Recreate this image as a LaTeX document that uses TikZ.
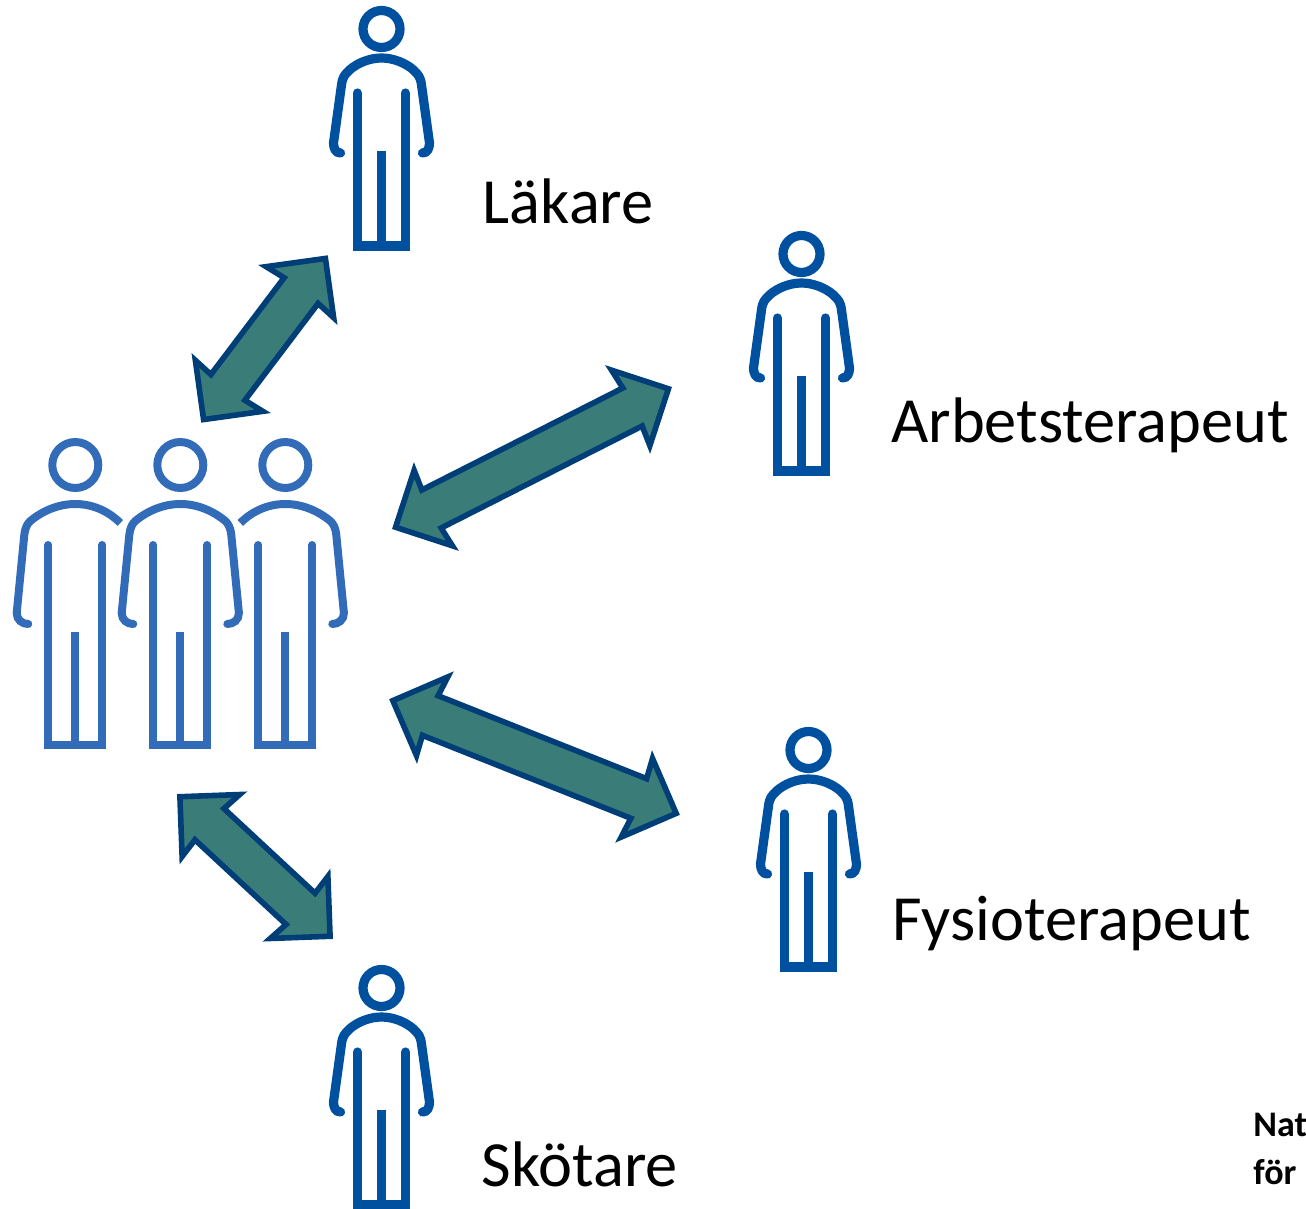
\documentclass[tikz,border=0pt]{standalone}
\usepackage{fontspec}
\setmainfont{Carlito}
\usetikzlibrary{shapes.arrows}
\definecolor{personblue}{RGB}{0, 80, 160}
\definecolor{teamblue}{RGB}{50, 108, 184}
\definecolor{arrowfill}{RGB}{58, 125, 120}
\definecolor{arrowline}{RGB}{0, 62, 120}
\tikzset{x=.5pt, y=-.5pt}
\tikzset{swap/.style={double arrow, draw=arrowline, fill=arrowfill, line width=2.8pt,
  inner sep=0pt, outer sep=0pt, text width=0pt, text height=18.5pt, text depth=0pt,
  double arrow head extend=10.5pt, double arrow head indent=1pt}}
\tikzset{role/.style={anchor=base west, inner sep=0pt, font=\fontsize{32.2}{38}\selectfont}}
\tikzset{small/.style={anchor=base west, inner sep=0pt, font=\fontsize{18}{22}\selectfont\bfseries}}
\tikzset{person/.pic={
  \draw[personblue, line width=4.6pt](0, 0)circle(18.5);
  \draw[personblue, line width=4.6pt, line cap=round](-41, 124)..controls(-46, 124)and(-48, 119)..(-48, 114)
    --(-40, 56)..controls(-39, 48)and(-37, 46)..(-32, 41)..controls(-24, 34)and(-12, 29)..(0, 29)
    ..controls(12, 29)and(24, 34)..(32, 41)..controls(37, 46)and(39, 48)..(40, 56)
    --(48, 114)..controls(48, 119)and(46, 124)..(41, 124);
  \draw[personblue, line width=4.6pt, line cap=round](-24, 64)--(-24, 217)--(24, 217)--(24, 64);
  \draw[personblue, line width=4.6pt](0, 122)--(0, 217);
}}
\tikzset{teamcore/.pic={
  \draw[teamblue, line width=4pt](0, 0)circle(23);
  \draw[teamblue, line width=4pt, line cap=round](-27, 80)--(-27, 280)--(27, 280)--(27, 80);
  \draw[teamblue, line width=4pt](0, 167)--(0, 280);
}}
\tikzset{teamarml/.pic={
  \draw[teamblue, line width=4pt, line cap=round](-47, 159)..controls(-53, 159)and(-58.6, 155)..(-58.6, 148)
    --(-51, 70)..controls(-50, 62)and(-48, 59)..(-45, 56)..controls(-33, 46)and(-17, 39)..(0, 39);
}}
\tikzset{teamarmr/.pic={
  \draw[teamblue, line width=4pt, line cap=round](47, 159)..controls(53, 159)and(58.6, 155)..(58.6, 148)
    --(51, 70)..controls(50, 62)and(48, 59)..(45, 56)..controls(33, 46)and(17, 39)..(0, 39);
}}
\tikzset{teamcutl/.pic={
  \draw[teamblue, line width=4pt](-45, 58)..controls(-33, 46)and(-17, 39)..(0, 39);
}}
\tikzset{teamcutr/.pic={
  \draw[teamblue, line width=4pt](45, 58)..controls(33, 46)and(17, 39)..(0, 39);
}}

\begin{document}
\begin{tikzpicture}
    \useasboundingbox(0, 0)rectangle(1306, 1209);
    \pic(lakare)at(381.5, 29){person};
    \pic(arbetsterapeut)at(801.5, 254){person};
    \pic(fysioterapeut)at(808.5, 750){person};
    \pic(skotare)at(381.5, 988){person};
    \pic(teamA)at(75.3, 465){teamcore};
    \pic at(75.3, 465){teamarml};
    \pic at(75.3, 465){teamcutr};
    \pic(teamB)at(180.3, 465){teamcore};
    \pic at(180.3, 465){teamarml};
    \pic at(180.3, 465){teamarmr};
    \pic(teamC)at(285.3, 465){teamcore};
    \pic at(285.3, 465){teamcutl};
    \pic at(285.3, 465){teamarmr};
    \node[swap, minimum height=101pt, rotate=52.9](swaplakare)at(264.5, 339){};
    \node[swap, minimum height=153pt, rotate=26.9](swaparbets)at(532, 458){};
    \node[swap, minimum height=152.5pt, rotate=-21.7](swapfysio)at(534.5, 757){};
    \node[swap, minimum height=102.5pt, rotate=-42.9](swapskotare)at(255, 866.5){};
    \node[role](lakaretext)at(482.5, 224){Läkare};
    \node[role](arbetstext)at(891, 442){Arbetsterapeut};
    \node[role](fysiotext)at(892, 940){Fysioterapeut};
    \node[role](skotaretext)at(481.5, 1186){Skötare};
    \node[small](nattext)at(1253, 1136){Nat};
    \node[small](fortext)at(1253, 1184){för};
\end{tikzpicture}
\end{document}
